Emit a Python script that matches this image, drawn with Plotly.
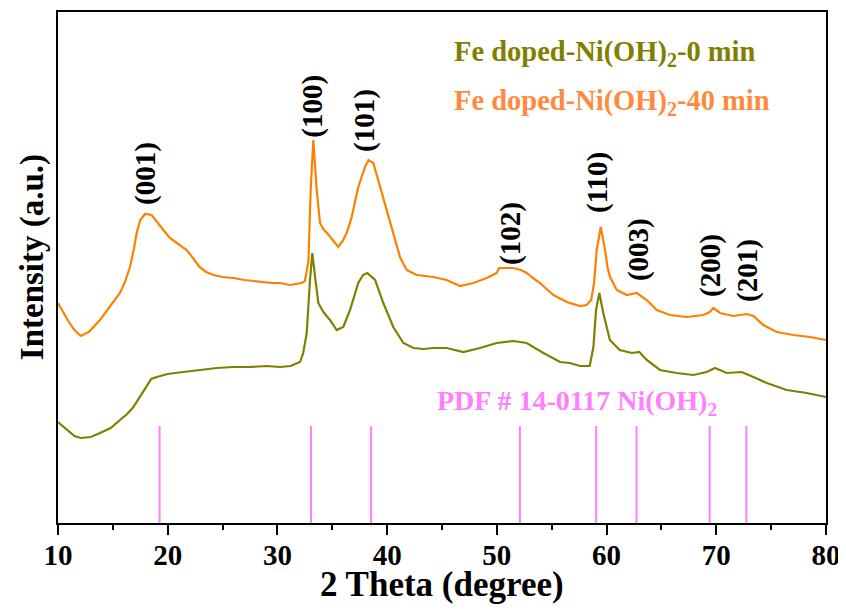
import plotly.graph_objects as go

# ---- data (intensity in arbitrary units) ----
x_40min = [10.0, 10.5, 11.0, 11.5, 12.07, 12.8, 13.83, 14.7, 15.65, 16.1, 16.56, 16.9, 17.17, 17.5,
           17.93, 18.54, 19.0, 19.6, 20.2, 20.82, 21.73, 22.3, 22.9, 23.5, 24.16, 25.0, 25.98, 27.0,
           28.4, 29.5, 30.24, 31.15, 32.2, 32.5, 32.82, 33.03, 33.27, 33.58, 33.88, 34.18, 34.6, 35.0,
           35.55, 36.0, 36.31, 36.77, 37.37, 37.98, 38.3, 38.74, 39.35, 39.96, 40.57, 41.17, 41.78,
           42.7, 43.5, 44.2, 45.43, 46.64, 47.86, 49.08, 49.99, 50.2, 50.8, 51.5, 52.2, 52.72, 53.3,
           53.93, 55.15, 56.37, 57.58, 58.16, 58.6, 58.86, 59.1, 59.47, 59.86, 60.1, 60.31, 60.93,
           61.84, 62.75, 63.66, 64.57, 65.78, 67.3, 68.82, 69.4, 69.73, 70.34, 71.55, 72.77, 73.38,
           74.29, 75.5, 77.02, 78.54, 80.0]
y_40min = [220, 210, 201, 193, 187, 191, 203, 216, 230, 241, 256, 273, 290, 303,
           309, 308, 301, 293, 285, 280, 273, 265, 256, 251, 248, 246, 245, 243,
           241, 240, 240, 238, 240, 242, 261, 333, 383, 333, 300, 294, 289, 283,
           276, 283, 290, 306, 336, 356, 363, 360, 336, 313, 290, 266, 253,
           248, 247, 246, 243, 237, 240, 245, 250, 255, 255, 255, 253, 250, 245,
           240, 228, 221, 217, 218, 223, 240, 273, 296, 273, 255, 246, 233,
           228, 230, 223, 213, 208, 206, 208, 211, 215, 210, 207, 209, 207,
           198, 191, 188, 186, 183]

x_0min = [10.0, 10.8, 11.5, 12.07, 13.0, 13.83, 14.8, 15.65, 16.3, 16.87, 17.5, 18.08, 18.5, 19.0,
          20.0, 21.42, 23.0, 24.47, 26.0, 27.5, 29.0, 30.24, 31.2, 32.06, 32.35, 32.67, 32.97, 33.18,
          33.43, 33.73, 34.18, 34.79, 35.4, 36.0, 36.62, 37.0, 37.37, 37.8, 38.19, 38.9, 39.65,
          40.56, 41.48, 42.39, 43.3, 44.21, 45.43, 46.94, 48.46, 49.99, 51.5, 52.72, 54.24, 55.76,
          56.64, 57.58, 58.46, 58.8, 59.04, 59.34, 59.7, 60.3, 61.2, 62.3, 62.98, 63.66, 64.87,
          66.39, 67.91, 69.12, 69.88, 70.95, 72.32, 73.38, 74.6, 76.42, 78.24, 80.0]
y_0min = [101, 93, 87, 85, 86, 90, 95, 103, 109, 116, 127, 138, 144, 146,
          149, 151, 153, 155, 156, 156, 157, 156, 157, 161, 170, 190, 243, 270,
          246, 220, 211, 203, 193, 196, 213, 227, 240, 248, 250, 243, 220,
          196, 180, 175, 174, 175, 175, 171, 175, 180, 182, 180, 170, 161,
          160, 157, 157, 176, 213, 230, 210, 183, 173, 170, 171, 163, 153,
          150, 148, 151, 155, 150, 151, 146, 140, 133, 130, 126]

pdf_pos = [19.26, 33.06, 38.54, 52.10, 59.05, 62.73, 69.40, 72.74]
pdf_height = 97

peak_labels = ["(001)", "(100)", "(101)", "(102)", "(110)", "(003)", "(200)", "(201)"]
peak_x = [17.93, 33.12, 37.89, 51.2, 59.13, 62.87, 69.43, 72.8]
peak_y = [349, 417, 403, 289, 340, 273, 257, 252]

x_ticks = [10, 20, 30, 40, 50, 60, 70, 80]

FONT = "Liberation Serif, Times New Roman, serif"
ORANGE = "#FF8000"
OLIVE = "#808000"
PINK = "#FF7FFF"

fig = go.Figure()

# reference lines (PDF card)
px_, py_ = [], []
for p in pdf_pos:
    px_ += [p, p, None]
    py_ += [0, pdf_height, None]
fig.add_trace(go.Scatter(x=px_, y=py_, mode="lines", line=dict(color=PINK, width=2),
                         hoverinfo="skip"))

fig.add_trace(go.Scatter(x=x_0min, y=y_0min, mode="lines", line=dict(color=OLIVE, width=2.2),
                         name="Fe doped-Ni(OH)2-0 min"))
fig.add_trace(go.Scatter(x=x_40min, y=y_40min, mode="lines", line=dict(color=ORANGE, width=2.2),
                         name="Fe doped-Ni(OH)2-40 min"))

for t, xx, yy in zip(peak_labels, peak_x, peak_y):
    fig.add_annotation(x=xx, y=yy, text=t, textangle=-90, showarrow=False,
                       font=dict(family=FONT, size=29, color="black", weight="bold"),
                       xanchor="center", yanchor="middle")

fig.add_annotation(x=45.91, y=470, text="Fe doped-Ni(OH)<sub>2</sub>-0 min", showarrow=False,
                   xanchor="left", yanchor="middle",
                   font=dict(family=FONT, size=28.5, color=OLIVE, weight="bold"))
fig.add_annotation(x=45.91, y=421, text="Fe doped-Ni(OH)<sub>2</sub>-40 min", showarrow=False,
                   xanchor="left", yanchor="middle",
                   font=dict(family=FONT, size=28.5, color="#FF8A3D", weight="bold"))
fig.add_annotation(x=44.36, y=121, text="PDF # 14-0117 Ni(OH)<sub>2</sub>", showarrow=False,
                   xanchor="left", yanchor="middle",
                   font=dict(family=FONT, size=28, color=PINK, weight="bold"))

# axis titles
fig.add_annotation(xref="paper", yref="paper", x=-0.034, y=0.52, text="Intensity (a.u.)",
                   textangle=-90, showarrow=False, xanchor="center", yanchor="middle",
                   font=dict(family=FONT, size=33, color="black", weight="bold"))
fig.add_annotation(xref="paper", yref="paper", x=0.5, y=-0.121, text="2 Theta (degree)",
                   showarrow=False, xanchor="center", yanchor="middle",
                   font=dict(family=FONT, size=35, color="black", weight="bold"))

# page body has an 8px margin: figure is sized/offset to compensate
fig.update_layout(
    width=838, height=596,
    margin=dict(l=50, r=20, t=4, b=81, autoexpand=False),
    plot_bgcolor="white", paper_bgcolor="white",
    showlegend=False,
    font=dict(family=FONT, color="black"),
)
fig.update_xaxes(
    range=[10, 80], tickvals=x_ticks, ticktext=[str(v) for v in x_ticks],
    ticks="outside", ticklen=10, tickwidth=2, tickcolor="black",
    minor=dict(ticks="outside", ticklen=5, tickwidth=2, tickcolor="black", dtick=5, tick0=0),
    showline=True, linewidth=2, linecolor="black", mirror=True,
    showgrid=False, zeroline=False, automargin=False,
    ticklabelstandoff=-5,
    tickfont=dict(family=FONT, size=29, color="black", weight="bold"),
)
fig.update_yaxes(
    range=[0, 511], showticklabels=False, ticks="",
    showline=True, linewidth=2, linecolor="black", mirror=True,
    showgrid=False, zeroline=False, automargin=False,
)

fig.write_html("out.html")
